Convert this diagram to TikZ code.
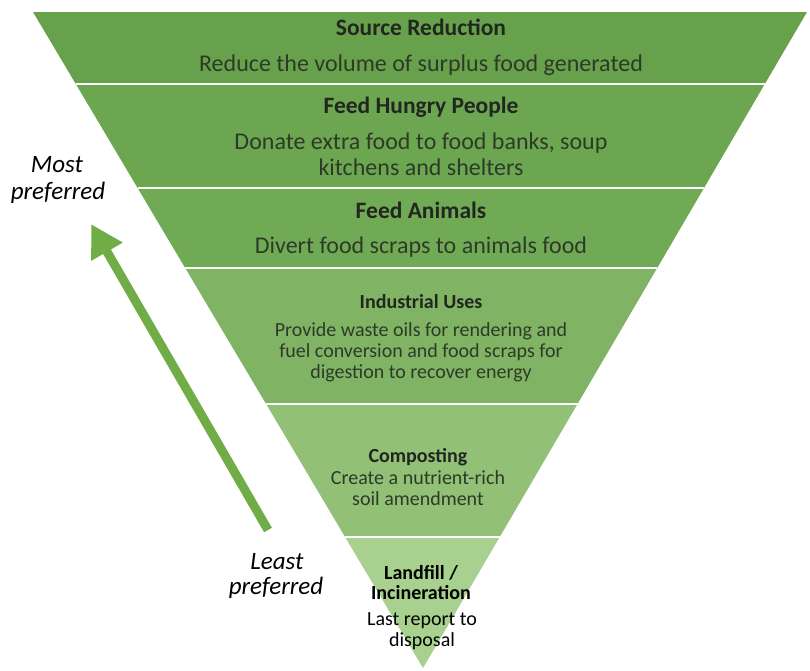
\documentclass[tikz,border=0pt]{standalone}
\usepackage{fontspec}
\setmainfont{Carlito}
\usetikzlibrary{arrows.meta}
\begin{document}
\begin{tikzpicture}[x=1pt,y=-1pt,
toptitle/.style={anchor=base,inner sep=0pt,text=color7,font=\fontsize{23.5}{26}\selectfont\bfseries},
topdescr/.style={anchor=base,inner sep=0pt,text=color8,font=\fontsize{24}{26}\selectfont},
lowtitle/.style={anchor=base,inner sep=0pt,text=color7,font=\fontsize{20}{22}\selectfont\bfseries},
lowdescr/.style={anchor=base,inner sep=0pt,text=color8,font=\fontsize{20}{22}\selectfont},
sidelabel/.style={anchor=base,inner sep=0pt,text=black,font=\fontsize{25}{28}\selectfont\itshape}]
\definecolor{color1}{RGB}{104,161,76}
\definecolor{color2}{RGB}{108,166,80}
\definecolor{color3}{RGB}{113,170,85}
\definecolor{color4}{RGB}{128,180,100}
\definecolor{color5}{RGB}{145,192,118}
\definecolor{color6}{RGB}{168,208,142}
\definecolor{color7}{RGB}{34,38,32}
\definecolor{color8}{RGB}{46,58,40}
\definecolor{color9}{RGB}{112,173,71}
\useasboundingbox (0,0) rectangle (810,670);
\coordinate[] (A1) at (33,12);
\coordinate[] (A2) at (807,12);
\coordinate[] (B1) at (75.8,84);
\coordinate[] (B2) at (764.8,84);
\coordinate[] (C1) at (137.6,188);
\coordinate[] (C2) at (704,188);
\coordinate[] (D1) at (185.2,268);
\coordinate[] (D2) at (657.2,268);
\coordinate[] (E1) at (266.1,404);
\coordinate[] (E2) at (577.5,404);
\coordinate[] (F1) at (345.1,537);
\coordinate[] (F2) at (499.7,537);
\coordinate[] (G1) at (423,668);
\coordinate[] (H1) at (268,530);
\coordinate[] (H2) at (91,224);
\fill[color1] (A1)--(A2)--(B2)--(B1)--cycle;
\fill[color2] (B1)--(B2)--(C2)--(C1)--cycle;
\fill[color3] (C1)--(C2)--(D2)--(D1)--cycle;
\fill[color4] (D1)--(D2)--(E2)--(E1)--cycle;
\fill[color5] (E1)--(E2)--(F2)--(F1)--cycle;
\fill[color6] (F1)--(F2)--(G1)--cycle;
\draw[white,line width=1.5pt] (B1)--(B2);
\draw[white,line width=1.5pt] (C1)--(C2);
\draw[white,line width=1.5pt] (D1)--(D2);
\draw[white,line width=1.5pt] (E1)--(E2);
\draw[white,line width=1.5pt] (F1)--(F2);
\draw[color9,line width=9pt,-{Triangle[length=32pt,width=34pt]}] (H1)--(H2);

\node[toptitle] (t1) at (421,35) {Source Reduction};
\node[topdescr] (d1) at (421,71) {Reduce the volume of surplus food generated};
\node[toptitle] (t2) at (421,113) {Feed Hungry People};
\node[topdescr] (d2a) at (421,149) {Donate extra food to food banks, soup};
\node[topdescr] (d2b) at (421,175) {kitchens and shelters};
\node[toptitle] (t3) at (421,218) {Feed Animals};
\node[topdescr] (d3) at (421,253) {Divert food scraps to animals food};
\node[lowtitle] (t4) at (421,308) {Industrial Uses};
\node[lowdescr] (d4a) at (421,336) {Provide waste oils for rendering and};
\node[lowdescr] (d4b) at (421,357) {fuel conversion and food scraps for};
\node[lowdescr] (d4c) at (421,378) {digestion to recover energy};
\node[lowtitle] (t5) at (418,462) {Composting};
\node[lowdescr] (d5a) at (418,484) {Create a nutrient-rich};
\node[lowdescr] (d5b) at (418,505) {soil amendment};
\node[lowtitle,text=black] (t6a) at (421,579) {Landfill /};
\node[lowtitle,text=black] (t6b) at (421,599) {Incineration};
\node[lowdescr,text=black] (d6a) at (422,625) {Last report to};
\node[lowdescr,text=black] (d6b) at (422,646) {disposal};
\node[sidelabel] (m1) at (57,172) {Most};
\node[sidelabel] (m2) at (58,199) {preferred};
\node[sidelabel] (l1) at (277,569) {Least};
\node[sidelabel] (l2) at (276,594) {preferred};

\end{tikzpicture}
\end{document}
